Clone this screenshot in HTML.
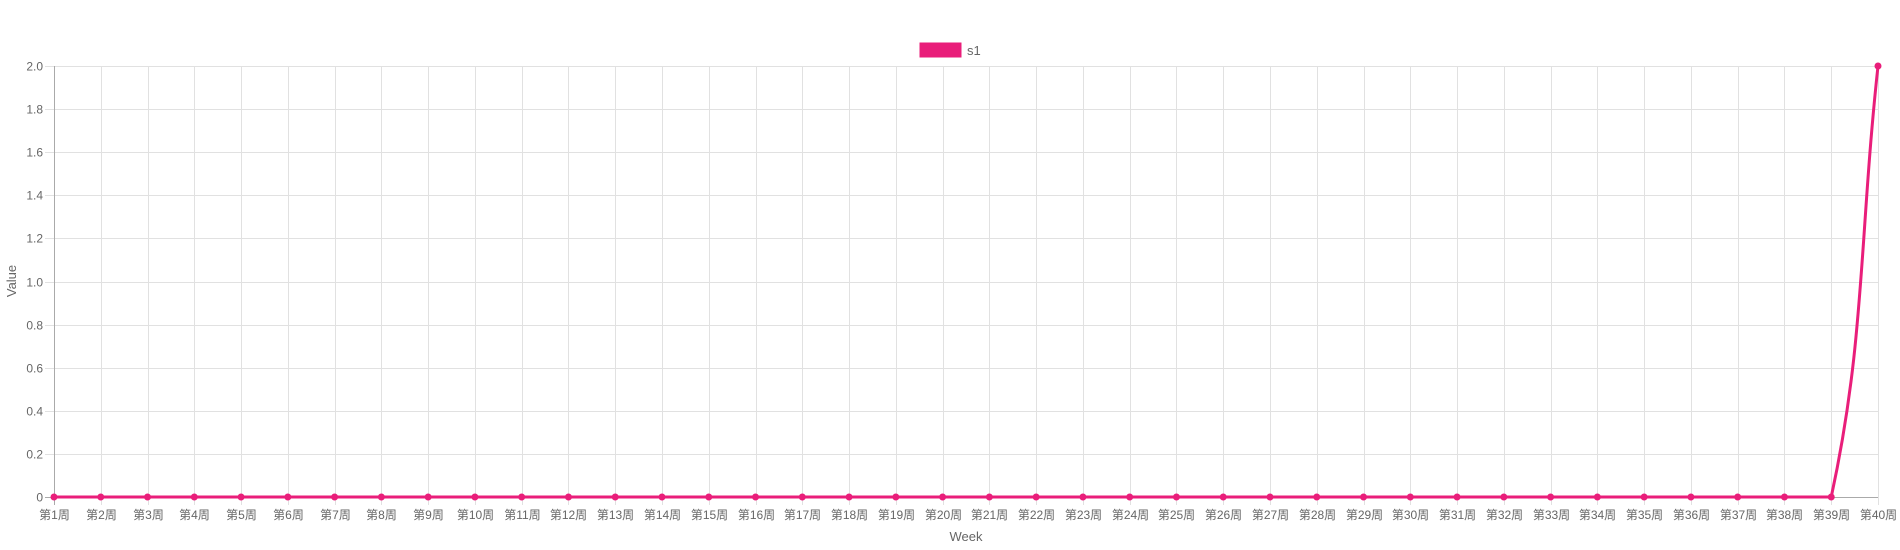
<!DOCTYPE html>
<html><head><meta charset="utf-8"><style>
html,body{margin:0;padding:0;background:#fff;}
svg{display:block;font-family:"Liberation Sans","Noto Sans CJK SC",sans-serif;}
</style></head><body>
<svg id="chart" width="1900" height="550">
  <g id="grid"></g>
  <g id="axes"></g>
  <g id="series"></g>
  <g>
    <rect x="919" y="42" width="43" height="16" fill="#e91e7a" stroke="#fff"/>
    <text x="967" y="55" font-size="13" fill="#666">s1</text>
  </g>
  <text x="966" y="541" font-size="13" fill="#666" text-anchor="middle">Week</text>
  <text transform="translate(16,281) rotate(-90)" font-size="13" fill="#666" text-anchor="middle">Value</text>
</svg>
<script>
const categories = Array.from({length:40},(_,i)=>'第'+(i+1)+'周');
const values = [0,0,0,0,0,0,0,0,0,0,0,0,0,0,0,0,0,0,0,0,0,0,0,0,0,0,0,0,0,0,0,0,0,0,0,0,0,0,0,2];
const yTicks = [0,0.2,0.4,0.6,0.8,1.0,1.2,1.4,1.6,1.8,2.0];
const yTickLabels = ['0','0.2','0.4','0.6','0.8','1.0','1.2','1.4','1.6','1.8','2.0'];

const L=54,R=1878,T=66,B=497,yMax=2;
const NS='http://www.w3.org/2000/svg';
const xs=i=>L+i*(R-L)/(categories.length-1);
const ys=v=>B-(v/yMax)*(B-T);
function mk(tag,attrs,parent){const e=document.createElementNS(NS,tag);for(const k in attrs)e.setAttribute(k,attrs[k]);parent.appendChild(e);return e;}
const grid=document.getElementById('grid'),axes=document.getElementById('axes'),ser=document.getElementById('series');

yTicks.forEach((t,i)=>{
  const y=Math.round(ys(t))+0.5;
  const ln=mk('line',{x1:45,x2:R,y1:y,y2:y,stroke:i===0?'#aaa':'#e1e1e1'},grid);
  
  
  const tx=mk('text',{x:43,y:y+4,'font-size':12,fill:'#666','text-anchor':'end'},axes);
  tx.textContent=yTickLabels[i];
  
  
});
categories.forEach((c,i)=>{
  const x=Math.round(xs(i))+0.5;
  const ln=mk('line',{x1:x,x2:x,y1:T,y2:505,stroke:i===0?'#aaa':'#e1e1e1'},grid);
  
  
  const tx=mk('text',{x:x,y:519,'font-size':12,fill:'#666','text-anchor':'middle'},axes);
  tx.textContent=c;
  
  
});

// Chart.js-style spline (tension 0.4) with capping
const pts=values.map((v,i)=>({x:xs(i),y:ys(v)}));
const t=0.4;
const cps=pts.map((p,i)=>{
  const prev=pts[i-1]||p,next=pts[i+1]||p;
  const d01=Math.hypot(p.x-prev.x,p.y-prev.y),d12=Math.hypot(next.x-p.x,next.y-p.y);
  let fa=d01/(d01+d12),fb=d12/(d01+d12);
  if(isNaN(fa))fa=0;if(isNaN(fb))fb=0;
  const cl=(v,a,b)=>Math.max(a,Math.min(b,v));
  return {px:cl(p.x-fa*t*(next.x-prev.x),L,R),py:cl(p.y-fa*t*(next.y-prev.y),T,B),
          nx:cl(p.x+fb*t*(next.x-prev.x),L,R),ny:cl(p.y+fb*t*(next.y-prev.y),T,B)};
});
let d='M'+pts[0].x+','+pts[0].y;
for(let i=1;i<pts.length;i++){
  d+=' C'+cps[i-1].nx+','+cps[i-1].ny+' '+cps[i].px+','+cps[i].py+' '+pts[i].x+','+pts[i].y;
}
const path=mk('path',{d:d,fill:'none',stroke:'#e91e7a','stroke-width':3},ser);


pts.forEach(p=>{
  const c=mk('circle',{cx:p.x,cy:p.y,r:3,fill:'#e91e7a',stroke:'#e91e7a','stroke-width':1},ser);
  
  
});
</script>
</body></html>
